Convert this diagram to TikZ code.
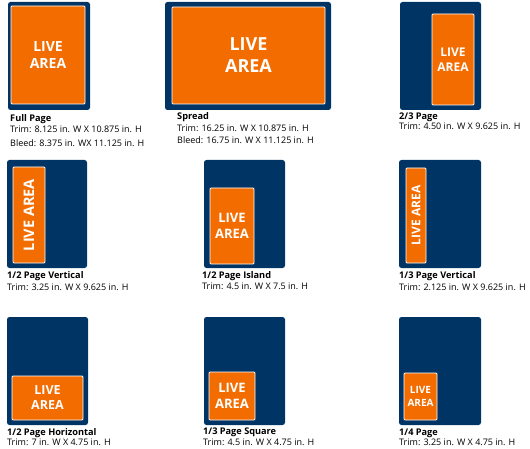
\documentclass[tikz,border=0pt]{standalone}
\usepackage{fontspec}
\setmainfont{Open Sans}
\usetikzlibrary{positioning}
\definecolor{adnavy}{RGB}{0,52,100}
\definecolor{adorange}{RGB}{242,108,0}

\begin{document}
\begin{tikzpicture}[x=1pt, y=-1pt, page/.style={fill=adnavy, rounded corners=2.5pt, inner sep=0pt}, live/.style={fill=adorange, draw=white, line width=0.8pt, rounded corners=1pt, text=white, align=center, inner sep=0pt}, title/.style={anchor=west, inner sep=0pt, font=\fontsize{9.2}{10}\selectfont\bfseries}, spec/.style={anchor=west, inner sep=0pt, font=\fontsize{9}{10}\selectfont}]
\useasboundingbox (0,0) rectangle (530,449);
% top row
\node[page, minimum width=82pt, minimum height=108pt] (fullPage) at (49,56) {};
\node[live, minimum width=74pt, minimum height=98pt, font=\fontsize{14}{17}\selectfont\bfseries] (fullLive) at (48,55) {LIVE\\AREA};
\node[title] (fullTitle) at (10,119) {Full Page};
\node[spec] (fullTrim) at (10,129) {Trim: 8.125 in. W X 10.875 in. H};
\node[spec] (fullBleed) at (10,143) {Bleed: 8.375 in. WX 11.125 in. H};
\node[page, minimum width=166pt, minimum height=108pt] (spreadPage) at (248,56) {};
\node[live, minimum width=153pt, minimum height=97pt, font=\fontsize{18}{22}\selectfont\bfseries] (spreadLive) at (248.5,55.5) {LIVE\\AREA};
\node[title] (spreadTitle) at (177,117) {Spread};
\node[spec] (spreadTrim) at (177,128) {Trim: 16.25 in. W X 10.875 in. H};
\node[spec] (spreadBleed) at (177,140) {Bleed: 16.75 in. W X 11.125 in. H};
\node[page, minimum width=81pt, minimum height=108pt] (twoThirdPage) at (440.5,56) {};
\node[live, minimum width=42pt, minimum height=91pt, font=\fontsize{12}{15}\selectfont\bfseries] (twoThirdLive) at (453,59.5) {LIVE\\AREA};
\node[title] (twoThirdTitle) at (399,117) {2/3 Page};
\node[spec] (twoThirdTrim) at (399,126) {Trim: 4.50 in. W X 9.625 in. H};
% middle row
\node[page, minimum width=80pt, minimum height=108pt] (halfVertPage) at (47,214) {};
\node[live, rotate=90, minimum width=96pt, minimum height=32pt, font=\fontsize{14.5}{18}\selectfont\bfseries] (halfVertLive) at (29,215) {LIVE AREA};
\node[title] (halfVertTitle) at (7,276) {1/2 Page Vertical};
\node[spec] (halfVertTrim) at (7,287) {Trim: 3.25 in. W X 9.625 in. H};
\node[page, minimum width=81pt, minimum height=108pt] (islandPage) at (244.5,214) {};
\node[live, minimum width=44pt, minimum height=76pt, font=\fontsize{13}{16}\selectfont\bfseries] (islandLive) at (232,226) {LIVE\\AREA};
\node[title] (islandTitle) at (202,276) {1/2 Page Island};
\node[spec] (islandTrim) at (202,286) {Trim: 4.5 in. W X 7.5 in. H};
\node[page, minimum width=82pt, minimum height=108pt] (thirdVertPage) at (440,214) {};
\node[live, rotate=90, minimum width=95pt, minimum height=20pt, font=\fontsize{12}{15}\selectfont\bfseries] (thirdVertLive) at (416,215.5) {LIVE AREA};
\node[title] (thirdVertTitle) at (399,276) {1/3 Page Vertical};
\node[spec] (thirdVertTrim) at (399,287) {Trim: 2.125 in. W X 9.625 in. H};
% bottom row
\node[page, minimum width=81pt, minimum height=108pt] (halfHorPage) at (47.5,371) {};
\node[live, minimum width=71pt, minimum height=44pt, font=\fontsize{12.5}{15}\selectfont\bfseries] (halfHorLive) at (47.5,398) {LIVE\\AREA};
\node[title] (halfHorTitle) at (7,433) {1/2 Page Horizontal};
\node[spec] (halfHorTrim) at (7,442) {Trim: 7 in. W X 4.75 in. H};
\node[page, minimum width=81pt, minimum height=108pt] (squarePage) at (244.5,371) {};
\node[live, minimum width=46pt, minimum height=48pt, font=\fontsize{13}{16}\selectfont\bfseries] (squareLive) at (232,396) {LIVE\\AREA};
\node[title] (squareTitle) at (203,432) {1/3 Page Square};
\node[spec] (squareTrim) at (203,442) {Trim: 4.5 in. W X 4.75 in. H};
\node[page, minimum width=82pt, minimum height=108pt] (quarterPage) at (440,371) {};
\node[live, minimum width=33pt, minimum height=47pt, font=\fontsize{10}{12.5}\selectfont\bfseries] (quarterLive) at (420.5,396.5) {LIVE\\AREA};
\node[title] (quarterTitle) at (399,433) {1/4 Page};
\node[spec] (quarterTrim) at (399,442) {Trim: 3.25 in. W X 4.75 in. H};
\end{tikzpicture}
\end{document}
